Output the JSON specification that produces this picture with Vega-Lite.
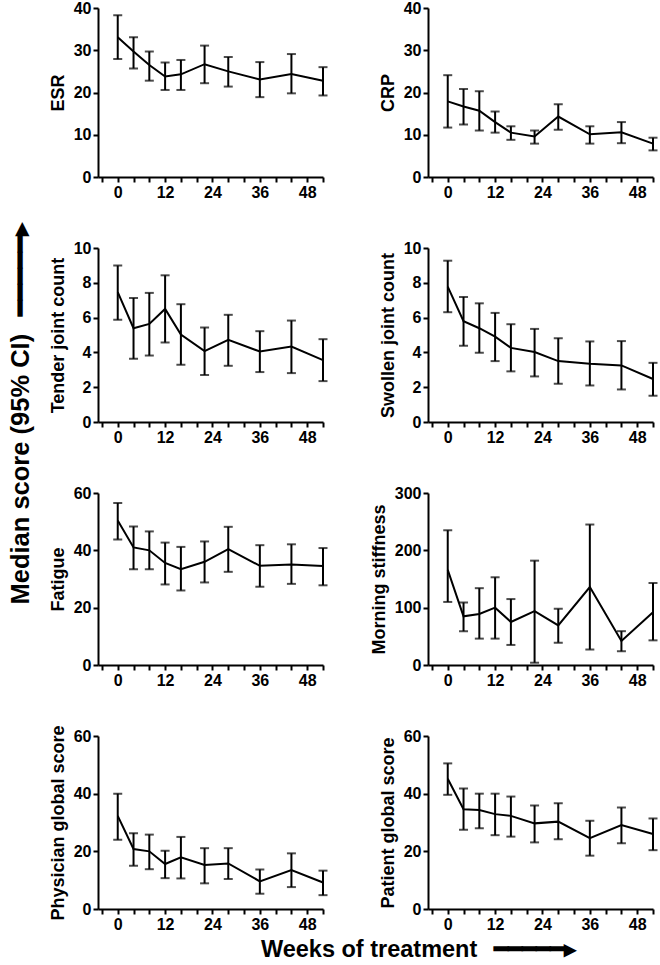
{
  "$schema": "https://vega.github.io/schema/vega-lite/v6.json",
  "background": "white",
  "padding": {"left": 8, "top": 0, "right": 0, "bottom": 0},
  "config": {
    "font": "Liberation Sans",
    "view": {"stroke": null},
    "axis": {"grid": false, "domainColor": "black", "domainWidth": 2, "tickColor": "black", "tickWidth": 2, "tickSize": 5, "labelFont": "Liberation Sans", "labelFontWeight": "bold", "labelFontSize": 16, "labelColor": "black", "labelPadding": 2, "titleFont": "Liberation Sans", "titleFontWeight": "bold", "titleFontSize": 18, "titleColor": "black", "titlePadding": 6},
    "title": {"font": "Liberation Sans", "fontWeight": "bold", "color": "black", "fontSize": 23.5}
  },
  "title": {"text": "Median score (95% CI)\u2002\u2009━━━━━▸", "orient": "left", "anchor": "middle", "offset": 15, "dx": 67, "fontSize": 25.5},
  "data": {"values": [
    {"m": "ESR", "week": 0, "med": 33.1, "lo": 27.9, "hi": 38.3},
    {"m": "ESR", "week": 4, "med": 29.7, "lo": 25.7, "hi": 33.1},
    {"m": "ESR", "week": 8, "med": 26.5, "lo": 22.8, "hi": 29.7},
    {"m": "ESR", "week": 12, "med": 23.8, "lo": 20.6, "hi": 27.1},
    {"m": "ESR", "week": 16, "med": 24.3, "lo": 20.6, "hi": 27.7},
    {"m": "ESR", "week": 22, "med": 26.7, "lo": 22.2, "hi": 31.1},
    {"m": "ESR", "week": 28, "med": 25.0, "lo": 21.4, "hi": 28.4},
    {"m": "ESR", "week": 36, "med": 23.1, "lo": 18.9, "hi": 27.2},
    {"m": "ESR", "week": 44, "med": 24.4, "lo": 19.8, "hi": 29.1},
    {"m": "ESR", "week": 52, "med": 22.8, "lo": 19.3, "hi": 26.0},
    {"m": "CRP", "week": 0, "med": 17.9, "lo": 11.7, "hi": 24.1},
    {"m": "CRP", "week": 4, "med": 16.7, "lo": 12.4, "hi": 20.8},
    {"m": "CRP", "week": 8, "med": 15.7, "lo": 11.0, "hi": 20.3},
    {"m": "CRP", "week": 12, "med": 13.0, "lo": 10.5, "hi": 15.5},
    {"m": "CRP", "week": 16, "med": 10.5, "lo": 8.8, "hi": 12.0},
    {"m": "CRP", "week": 22, "med": 9.6, "lo": 7.9, "hi": 11.0},
    {"m": "CRP", "week": 28, "med": 14.3, "lo": 11.2, "hi": 17.2},
    {"m": "CRP", "week": 36, "med": 10.1, "lo": 7.9, "hi": 12.0},
    {"m": "CRP", "week": 44, "med": 10.6, "lo": 8.0, "hi": 13.0},
    {"m": "CRP", "week": 52, "med": 7.9, "lo": 6.3, "hi": 9.3},
    {"m": "TJC", "week": 0, "med": 7.46, "lo": 5.87, "hi": 8.99},
    {"m": "TJC", "week": 4, "med": 5.39, "lo": 3.63, "hi": 7.13},
    {"m": "TJC", "week": 8, "med": 5.64, "lo": 3.82, "hi": 7.42},
    {"m": "TJC", "week": 12, "med": 6.5, "lo": 4.57, "hi": 8.43},
    {"m": "TJC", "week": 16, "med": 5.03, "lo": 3.29, "hi": 6.77},
    {"m": "TJC", "week": 22, "med": 4.07, "lo": 2.7, "hi": 5.43},
    {"m": "TJC", "week": 28, "med": 4.72, "lo": 3.23, "hi": 6.16},
    {"m": "TJC", "week": 36, "med": 4.05, "lo": 2.87, "hi": 5.22},
    {"m": "TJC", "week": 44, "med": 4.34, "lo": 2.81, "hi": 5.83},
    {"m": "TJC", "week": 52, "med": 3.56, "lo": 2.35, "hi": 4.76},
    {"m": "SJC", "week": 0, "med": 7.78, "lo": 6.31, "hi": 9.27},
    {"m": "SJC", "week": 4, "med": 5.79, "lo": 4.38, "hi": 7.19},
    {"m": "SJC", "week": 8, "med": 5.39, "lo": 3.98, "hi": 6.82},
    {"m": "SJC", "week": 12, "med": 4.91, "lo": 3.5, "hi": 6.27},
    {"m": "SJC", "week": 16, "med": 4.26, "lo": 2.91, "hi": 5.62},
    {"m": "SJC", "week": 22, "med": 4.02, "lo": 2.62, "hi": 5.35},
    {"m": "SJC", "week": 28, "med": 3.5, "lo": 2.2, "hi": 4.82},
    {"m": "SJC", "week": 36, "med": 3.35, "lo": 2.1, "hi": 4.63},
    {"m": "SJC", "week": 44, "med": 3.25, "lo": 1.87, "hi": 4.65},
    {"m": "SJC", "week": 52, "med": 2.47, "lo": 1.51, "hi": 3.4},
    {"m": "Fatigue", "week": 0, "med": 50.4, "lo": 43.8, "hi": 56.5},
    {"m": "Fatigue", "week": 4, "med": 41.0, "lo": 33.4, "hi": 48.3},
    {"m": "Fatigue", "week": 8, "med": 40.0, "lo": 33.4, "hi": 46.6},
    {"m": "Fatigue", "week": 12, "med": 35.6, "lo": 28.1, "hi": 42.7},
    {"m": "Fatigue", "week": 16, "med": 33.4, "lo": 26.0, "hi": 41.2},
    {"m": "Fatigue", "week": 22, "med": 36.0, "lo": 28.8, "hi": 43.1},
    {"m": "Fatigue", "week": 28, "med": 40.4, "lo": 32.5, "hi": 48.2},
    {"m": "Fatigue", "week": 36, "med": 34.6, "lo": 27.3, "hi": 41.8},
    {"m": "Fatigue", "week": 44, "med": 35.1, "lo": 28.3, "hi": 42.1},
    {"m": "Fatigue", "week": 52, "med": 34.5, "lo": 27.8, "hi": 40.8},
    {"m": "MS", "week": 0, "med": 166, "lo": 110, "hi": 235},
    {"m": "MS", "week": 4, "med": 85, "lo": 59, "hi": 109},
    {"m": "MS", "week": 8, "med": 89, "lo": 46, "hi": 134},
    {"m": "MS", "week": 12, "med": 100, "lo": 46, "hi": 153},
    {"m": "MS", "week": 16, "med": 75, "lo": 35, "hi": 115},
    {"m": "MS", "week": 22, "med": 94, "lo": 4, "hi": 182},
    {"m": "MS", "week": 28, "med": 69, "lo": 39, "hi": 98},
    {"m": "MS", "week": 36, "med": 136, "lo": 27, "hi": 245},
    {"m": "MS", "week": 44, "med": 42, "lo": 24, "hi": 59},
    {"m": "MS", "week": 52, "med": 92, "lo": 43, "hi": 143},
    {"m": "PhGS", "week": 0, "med": 32.3, "lo": 24.0, "hi": 40.0},
    {"m": "PhGS", "week": 4, "med": 20.8, "lo": 15.0, "hi": 26.3},
    {"m": "PhGS", "week": 8, "med": 20.0, "lo": 13.8, "hi": 25.8},
    {"m": "PhGS", "week": 12, "med": 15.6, "lo": 10.7, "hi": 20.2},
    {"m": "PhGS", "week": 16, "med": 17.9, "lo": 10.6, "hi": 25.0},
    {"m": "PhGS", "week": 22, "med": 15.3, "lo": 8.9, "hi": 21.1},
    {"m": "PhGS", "week": 28, "med": 15.8, "lo": 10.4, "hi": 21.1},
    {"m": "PhGS", "week": 36, "med": 9.6, "lo": 5.3, "hi": 13.7},
    {"m": "PhGS", "week": 44, "med": 13.5, "lo": 7.6, "hi": 19.3},
    {"m": "PhGS", "week": 52, "med": 9.2, "lo": 4.8, "hi": 13.3},
    {"m": "PaGS", "week": 0, "med": 45.2, "lo": 39.6, "hi": 50.5},
    {"m": "PaGS", "week": 4, "med": 34.6, "lo": 27.5, "hi": 41.8},
    {"m": "PaGS", "week": 8, "med": 34.3, "lo": 28.0, "hi": 40.0},
    {"m": "PaGS", "week": 12, "med": 32.9, "lo": 25.6, "hi": 40.0},
    {"m": "PaGS", "week": 16, "med": 32.3, "lo": 25.1, "hi": 39.0},
    {"m": "PaGS", "week": 22, "med": 29.7, "lo": 23.1, "hi": 35.9},
    {"m": "PaGS", "week": 28, "med": 30.3, "lo": 24.2, "hi": 36.7},
    {"m": "PaGS", "week": 36, "med": 24.6, "lo": 18.5, "hi": 30.6},
    {"m": "PaGS", "week": 44, "med": 29.1, "lo": 22.8, "hi": 35.2},
    {"m": "PaGS", "week": 52, "med": 26.0, "lo": 20.4, "hi": 31.4}
  ]},
  "vconcat": [
    {
      "title": {"text": "Weeks of treatment\u2002\u2009━━━━━▸", "orient": "bottom", "anchor": "middle", "offset": 6, "dx": 65},
      "columns": 2,
      "bounds": "flush",
      "spacing": {"row": 71, "column": 105},
      "concat": [
        {"width": 225, "height": 169, "transform": [{"filter": "datum.m === 'ESR'"}],
         "layer": [
          {"mark": {"type": "errorbar", "thickness": 2, "color": "black", "ticks": {"size": 9, "thickness": 2, "color": "black"}},
           "encoding": {"x": {"field": "week", "type": "quantitative", "scale": {"domain": [-5, 52], "nice": false, "zero": false}, "axis": {"title": null, "format": "d", "tickCount": 40, "values": [-4, 0, 4, 8, 12, 16, 20, 24, 28, 32, 36, 40, 44, 48, 52], "labelExpr": "datum.value % 12 === 0 && datum.value >= 0 ? datum.label : ''", "labelOverlap": false, "labelFlush": false}},
             "y": {"field": "lo", "type": "quantitative", "scale": {"domain": [0, 40], "nice": false}, "axis": {"title": "ESR", "format": "d", "tickCount": 40, "labelOverlap": false, "values": [0, 10, 20, 30, 40]}}, "y2": {"field": "hi"}}},
          {"mark": {"type": "line", "color": "black", "strokeWidth": 2},
           "encoding": {"x": {"field": "week", "type": "quantitative"}, "y": {"field": "med", "type": "quantitative", "title": "ESR"}}}
         ]},
        {"width": 225, "height": 169, "transform": [{"filter": "datum.m === 'CRP'"}],
         "layer": [
          {"mark": {"type": "errorbar", "thickness": 2, "color": "black", "ticks": {"size": 9, "thickness": 2, "color": "black"}},
           "encoding": {"x": {"field": "week", "type": "quantitative", "scale": {"domain": [-5, 52], "nice": false, "zero": false}, "axis": {"title": null, "format": "d", "tickCount": 40, "values": [-4, 0, 4, 8, 12, 16, 20, 24, 28, 32, 36, 40, 44, 48, 52], "labelExpr": "datum.value % 12 === 0 && datum.value >= 0 ? datum.label : ''", "labelOverlap": false, "labelFlush": false}},
             "y": {"field": "lo", "type": "quantitative", "scale": {"domain": [0, 40], "nice": false}, "axis": {"title": "CRP", "format": "d", "tickCount": 40, "labelOverlap": false, "values": [0, 10, 20, 30, 40]}}, "y2": {"field": "hi"}}},
          {"mark": {"type": "line", "color": "black", "strokeWidth": 2},
           "encoding": {"x": {"field": "week", "type": "quantitative"}, "y": {"field": "med", "type": "quantitative", "title": "CRP"}}}
         ]},
        {"width": 225, "height": 174, "transform": [{"filter": "datum.m === 'TJC'"}],
         "layer": [
          {"mark": {"type": "errorbar", "thickness": 2, "color": "black", "ticks": {"size": 9, "thickness": 2, "color": "black"}},
           "encoding": {"x": {"field": "week", "type": "quantitative", "scale": {"domain": [-5, 52], "nice": false, "zero": false}, "axis": {"title": null, "format": "d", "tickCount": 40, "values": [-4, 0, 4, 8, 12, 16, 20, 24, 28, 32, 36, 40, 44, 48, 52], "labelExpr": "datum.value % 12 === 0 && datum.value >= 0 ? datum.label : ''", "labelOverlap": false, "labelFlush": false}},
             "y": {"field": "lo", "type": "quantitative", "scale": {"domain": [0, 10], "nice": false}, "axis": {"title": "Tender joint count", "format": "d", "tickCount": 40, "labelOverlap": false, "values": [0, 2, 4, 6, 8, 10]}}, "y2": {"field": "hi"}}},
          {"mark": {"type": "line", "color": "black", "strokeWidth": 2},
           "encoding": {"x": {"field": "week", "type": "quantitative"}, "y": {"field": "med", "type": "quantitative", "title": "Tender joint count"}}}
         ]},
        {"width": 225, "height": 174, "transform": [{"filter": "datum.m === 'SJC'"}],
         "layer": [
          {"mark": {"type": "errorbar", "thickness": 2, "color": "black", "ticks": {"size": 9, "thickness": 2, "color": "black"}},
           "encoding": {"x": {"field": "week", "type": "quantitative", "scale": {"domain": [-5, 52], "nice": false, "zero": false}, "axis": {"title": null, "format": "d", "tickCount": 40, "values": [-4, 0, 4, 8, 12, 16, 20, 24, 28, 32, 36, 40, 44, 48, 52], "labelExpr": "datum.value % 12 === 0 && datum.value >= 0 ? datum.label : ''", "labelOverlap": false, "labelFlush": false}},
             "y": {"field": "lo", "type": "quantitative", "scale": {"domain": [0, 10], "nice": false}, "axis": {"title": "Swollen joint count", "format": "d", "tickCount": 40, "labelOverlap": false, "values": [0, 2, 4, 6, 8, 10]}}, "y2": {"field": "hi"}}},
          {"mark": {"type": "line", "color": "black", "strokeWidth": 2},
           "encoding": {"x": {"field": "week", "type": "quantitative"}, "y": {"field": "med", "type": "quantitative", "title": "Swollen joint count"}}}
         ]},
        {"width": 225, "height": 172, "transform": [{"filter": "datum.m === 'Fatigue'"}],
         "layer": [
          {"mark": {"type": "errorbar", "thickness": 2, "color": "black", "ticks": {"size": 9, "thickness": 2, "color": "black"}},
           "encoding": {"x": {"field": "week", "type": "quantitative", "scale": {"domain": [-5, 52], "nice": false, "zero": false}, "axis": {"title": null, "format": "d", "tickCount": 40, "values": [-4, 0, 4, 8, 12, 16, 20, 24, 28, 32, 36, 40, 44, 48, 52], "labelExpr": "datum.value % 12 === 0 && datum.value >= 0 ? datum.label : ''", "labelOverlap": false, "labelFlush": false}},
             "y": {"field": "lo", "type": "quantitative", "scale": {"domain": [0, 60], "nice": false}, "axis": {"title": "Fatigue", "format": "d", "tickCount": 40, "labelOverlap": false, "values": [0, 20, 40, 60]}}, "y2": {"field": "hi"}}},
          {"mark": {"type": "line", "color": "black", "strokeWidth": 2},
           "encoding": {"x": {"field": "week", "type": "quantitative"}, "y": {"field": "med", "type": "quantitative", "title": "Fatigue"}}}
         ]},
        {"width": 225, "height": 172, "transform": [{"filter": "datum.m === 'MS'"}],
         "layer": [
          {"mark": {"type": "errorbar", "thickness": 2, "color": "black", "ticks": {"size": 9, "thickness": 2, "color": "black"}},
           "encoding": {"x": {"field": "week", "type": "quantitative", "scale": {"domain": [-5, 52], "nice": false, "zero": false}, "axis": {"title": null, "format": "d", "tickCount": 40, "values": [-4, 0, 4, 8, 12, 16, 20, 24, 28, 32, 36, 40, 44, 48, 52], "labelExpr": "datum.value % 12 === 0 && datum.value >= 0 ? datum.label : ''", "labelOverlap": false, "labelFlush": false}},
             "y": {"field": "lo", "type": "quantitative", "scale": {"domain": [0, 300], "nice": false}, "axis": {"title": "Morning stiffness", "format": "d", "tickCount": 40, "labelOverlap": false, "values": [0, 100, 200, 300]}}, "y2": {"field": "hi"}}},
          {"mark": {"type": "line", "color": "black", "strokeWidth": 2},
           "encoding": {"x": {"field": "week", "type": "quantitative"}, "y": {"field": "med", "type": "quantitative", "title": "Morning stiffness"}}}
         ]},
        {"width": 225, "height": 173, "transform": [{"filter": "datum.m === 'PhGS'"}],
         "layer": [
          {"mark": {"type": "errorbar", "thickness": 2, "color": "black", "ticks": {"size": 9, "thickness": 2, "color": "black"}},
           "encoding": {"x": {"field": "week", "type": "quantitative", "scale": {"domain": [-5, 52], "nice": false, "zero": false}, "axis": {"title": null, "format": "d", "tickCount": 40, "values": [-4, 0, 4, 8, 12, 16, 20, 24, 28, 32, 36, 40, 44, 48, 52], "labelExpr": "datum.value % 12 === 0 && datum.value >= 0 ? datum.label : ''", "labelOverlap": false, "labelFlush": false}},
             "y": {"field": "lo", "type": "quantitative", "scale": {"domain": [0, 60], "nice": false}, "axis": {"title": "Physician global score", "format": "d", "tickCount": 40, "labelOverlap": false, "values": [0, 20, 40, 60]}}, "y2": {"field": "hi"}}},
          {"mark": {"type": "line", "color": "black", "strokeWidth": 2},
           "encoding": {"x": {"field": "week", "type": "quantitative"}, "y": {"field": "med", "type": "quantitative", "title": "Physician global score"}}}
         ]},
        {"width": 225, "height": 173, "transform": [{"filter": "datum.m === 'PaGS'"}],
         "layer": [
          {"mark": {"type": "errorbar", "thickness": 2, "color": "black", "ticks": {"size": 9, "thickness": 2, "color": "black"}},
           "encoding": {"x": {"field": "week", "type": "quantitative", "scale": {"domain": [-5, 52], "nice": false, "zero": false}, "axis": {"title": null, "format": "d", "tickCount": 40, "values": [-4, 0, 4, 8, 12, 16, 20, 24, 28, 32, 36, 40, 44, 48, 52], "labelExpr": "datum.value % 12 === 0 && datum.value >= 0 ? datum.label : ''", "labelOverlap": false, "labelFlush": false}},
             "y": {"field": "lo", "type": "quantitative", "scale": {"domain": [0, 60], "nice": false}, "axis": {"title": "Patient global score", "format": "d", "tickCount": 40, "labelOverlap": false, "values": [0, 20, 40, 60]}}, "y2": {"field": "hi"}}},
          {"mark": {"type": "line", "color": "black", "strokeWidth": 2},
           "encoding": {"x": {"field": "week", "type": "quantitative"}, "y": {"field": "med", "type": "quantitative", "title": "Patient global score"}}}
         ]}
      ]
    }
  ]
}
